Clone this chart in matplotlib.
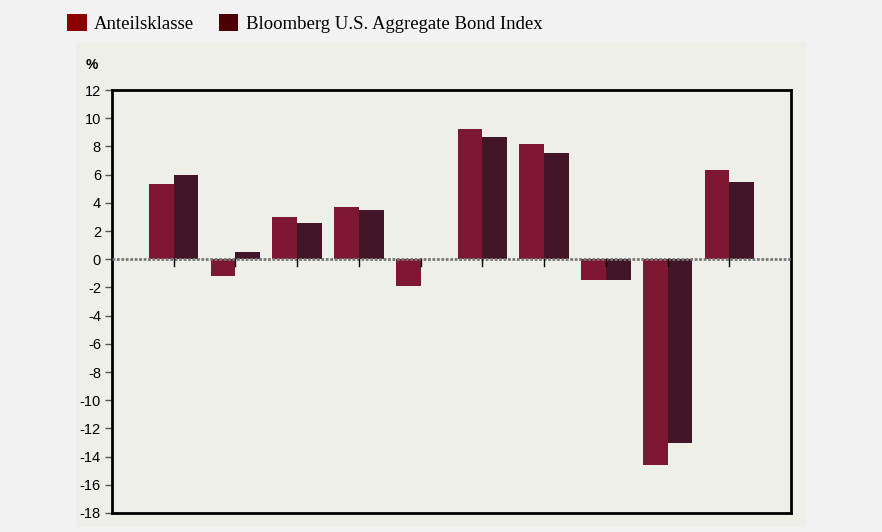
import numpy as np
import matplotlib.pyplot as plt
from matplotlib.patches import Rectangle, Patch

plt.rcParams['axes.unicode_minus'] = False

# annual returns, share class vs. benchmark (%)
years = np.arange(1, 11)
anteil = [5.3, -1.2, 3.0, 3.7, -1.9, 9.2, 8.2, -1.5, -14.6, 6.3]
bloomberg = [6.0, 0.5, 2.6, 3.5, np.nan, 8.7, 7.5, -1.5, -13.0, 5.5]
series_names = ['Anteilsklasse', 'Bloomberg U.S. Aggregate Bond Index']

W, H = 882, 532
fig = plt.figure(figsize=(W / 100, H / 100), dpi=100, facecolor='#f2f2f2')

# inner panel behind the plot
fig.patches.append(Rectangle((76 / W, 1 - 527 / H), (806 - 76) / W, (527 - 42) / H,
                             transform=fig.transFigure, facecolor='#efefea',
                             edgecolor='none', zorder=-5))

ax = fig.add_axes([112 / W, 1 - 513 / H, (791 - 112) / W, (513 - 90) / H])
ax.set_facecolor('#efefea')

bw = 0.4
ax.bar(years - bw / 2, anteil, width=bw, color='#7e1832', zorder=2)
ax.bar(years + bw / 2, bloomberg, width=bw, color='#421528', zorder=2)

ax.axhline(0, color='#777777', lw=2, ls=(0, (1, 0.6)), zorder=3)

ax.set_xlim(0, 11)
ax.set_ylim(-18, 12)
ax.set_yticks(np.arange(-18, 13, 2))
ax.set_xticks(years)
ax.set_xticklabels([])
for s in ax.spines.values():
    s.set_linewidth(2)
    s.set_color('black')
ax.tick_params(axis='y', length=5, width=1, color='#555555', labelsize=10.5, pad=3)
ax.tick_params(axis='x', length=0)
for lab in ax.get_yticklabels():
    lab.set_family('Liberation Sans')

# small tick marks hanging below the zero line
for x in years:
    ax.plot([x, x], [0, -0.45], color='black', lw=1, zorder=4)

fig.text(86 / W, 1 - 65 / H, '%', family='Liberation Sans', fontsize=10,
         fontweight='bold', va='center', ha='left')

handles = [Patch(facecolor='#8b0000'), Patch(facecolor='#4b0005')]
fig.legend(handles, series_names, loc='upper left', bbox_to_anchor=(50 / W, 1 + 3 / H),
           ncol=2, frameon=False, prop={'family': 'Liberation Serif', 'size': 13.5},
           handlelength=1.05, handleheight=1.05, handletextpad=0.4, columnspacing=1.3)

fig.savefig('out.png', dpi=100, facecolor=fig.get_facecolor())
